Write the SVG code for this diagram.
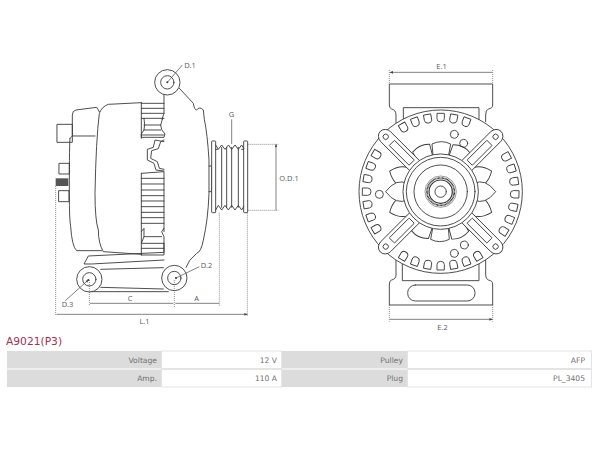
<svg xmlns="http://www.w3.org/2000/svg" width="600" height="450" viewBox="0 0 600 450">
<style>
.l{fill:none;stroke:#3a3a3a;stroke-width:2.7;stroke-linejoin:round;stroke-linecap:round}
.w{fill:#fff;stroke:#3a3a3a;stroke-width:2.7;stroke-linejoin:round}
.d{fill:none;stroke:#555;stroke-width:2;stroke-dasharray:3 3}
.a{fill:none;stroke:#555;stroke-width:2.2;marker-start:url(#ar);marker-end:url(#ar)}
.s{fill:none;stroke:#555;stroke-width:2.2;marker-end:url(#ae)}
text{font-family:"Open Sans","Liberation Sans",sans-serif}
.t{font-size:7.500px;fill:#5a5a5a;text-anchor:middle}
.c{font-family:"DejaVu Sans",sans-serif;font-size:7.600px;fill:#707070;text-anchor:end}
.g{fill:#dcdcdc}
.v{fill:#fff;stroke:#e4e4e4;stroke-width:1}
</style>
<defs>
<marker id="ar" viewBox="0 0 10 10" refX="9" refY="5" markerWidth="4.500" markerHeight="4.500" orient="auto-start-reverse"><path d="M0 1L10 5L0 9Z" fill="#444"/></marker>
<marker id="ae" viewBox="0 0 10 10" refX="9" refY="5" markerWidth="4.500" markerHeight="4.500" orient="auto"><path d="M0 1L10 5L0 9Z" fill="#444"/></marker>
<path id="tab" class="w" d="M291 160H313V176Q313 186 302 186Q291 186 291 176Z"/>
<g id="arm">
<path class="w" d="M281 290V162A21 23 0 0 1 323 162V290"/>
<rect class="w" x="291" y="188" width="22" height="84" rx="1"/>
<circle class="w" cx="302" cy="162" r="8"/>
</g>
<path id="blade" class="w" d="M280 296L276 252Q305 238 332 252L324 296Z"/>
<path id="leaf" class="w" d="M278 296Q260 262 302 230Q344 262 326 296Z"/>
</defs>
<rect width="600" height="450" fill="#fff"/>

<g id="side-view" transform="translate(40 60) scale(.33333)">
<path class="l" d="M372 105V160L366 178M418 85L460 130Q463 150 470 150Q478 138 490 150L493 178Q502 220 507 300V400Q504 480 490 540Q484 575 470 580Q445 600 438 622"/>
<path class="l" d="M304 128L205 133Q185 140 178 160Q168 240 165 400Q165 480 175 510Q175 550 190 575L304 583"/>
<path class="l" d="M178 155L170 142L108 150Q97 152 97 165V228H165M90 235Q88 240 88 400Q88 480 92 500Q96 560 110 572H185"/>
<path class="l" d="M90 235L97 228M304 128V235M304 340V585"/>
<path class="l" d="M52 193H97V247H52ZM58 310H88V342H58ZM57 392H87V425H57Z"/>
<rect x="47" y="355" width="38" height="23" fill="#555"/>
<path class="l" d="M304 130H372M304 145H372M304 160H372M304 175H372M312 175Q316 195 312 210L304 222V232H372L375 222Q362 210 362 195L368 175M312 195H362M312 210H362M304 225H372"/>
<path class="l" d="M372 245L345 240L340 262L322 268V300L342 310L348 330L372 333M372 240L362 245L355 266L335 272L332 295L352 305L358 325L372 328"/>
<path class="l" d="M304 340L372 335V515M304 355H372M304 372H372M304 390H372M304 407H372M304 423H372M304 440H372M304 457H372M304 473H372M304 490H372M304 515L312 505V530L304 550H372V530L365 515L372 505M312 530H365M304 565H372M304 585H372V550"/>
<path class="l" d="M372 600L155 612H132L145 588L372 577V550"/>
<path class="l" d="M182 628L370 623M182 682L370 687M148 695H385"/>
<circle class="w" cx="148" cy="658" r="38"/><circle class="l" cx="148" cy="658" r="20"/><circle cx="145" cy="660" r="3" fill="#333"/>
<circle class="w" cx="403" cy="654" r="38"/><circle class="l" cx="403" cy="654" r="20"/><circle cx="408" cy="654" r="3" fill="#333"/>
<circle class="w" cx="382" cy="67" r="38"/><circle class="l" cx="382" cy="67" r="20"/><circle cx="382" cy="67" r="3" fill="#333"/>
<path class="l" d="M507 318H515V395H507"/>
<rect class="w" x="515" y="243" width="12" height="215" rx="2"/>
<rect class="w" x="611" y="243" width="12" height="215" rx="2"/>
<path class="l" d="M527 255L535 268L545 255L555 268L565 255L575 268L585 255L595 268L605 255L611 265M527 450L535 436L545 450L555 436L565 450L575 436L585 450L595 436L605 450L611 440"/>
<path class="l" d="M545 262V442M560 262V442M575 262V442M595 262V442M527 268H533M605 268H611"/>
</g>

<g id="side-dimensions" transform="translate(40 60) scale(.33333)">
<path class="d" d="M47 378V768M148 660V738M403 660V742M538 458V738M622 458V768M623 253H715M623 451H715"/>
<path class="a" d="M708 253V451M150 730H400M406 730H537M50 763H622"/>
<path class="s" d="M575 178V252M427 15L382 67M478 620L408 654M76 722L145 660"/>
</g>

<g id="front-view" transform="translate(340 60) scale(.33333)">
<path class="l" d="M168 200V165Q168 150 155 147Q148 145 148 135V72H458V135Q458 145 445 147Q437 150 437 165V185M190 180V143H417V180"/>
<path class="l" d="M168 600V645Q168 657 155 660Q148 662 148 672V735H458V672Q458 662 445 660Q437 657 437 645V600M187 605V662H417V605"/>
<rect class="l" x="203" y="675" width="202" height="48" rx="23"/>
<circle class="w" cx="302" cy="395" r="245"/>
<use href="#tab" transform="rotate(-30 302 395)"/><use href="#tab" transform="rotate(-20 302 395)"/><use href="#tab" transform="rotate(-10 302 395)"/><use href="#tab"/><use href="#tab" transform="rotate(10 302 395)"/><use href="#tab" transform="rotate(20 302 395)"/>
<use href="#tab" transform="rotate(62 302 395)"/><use href="#tab" transform="rotate(72 302 395)"/><use href="#tab" transform="rotate(82 302 395)"/><use href="#tab" transform="rotate(92 302 395)"/><use href="#tab" transform="rotate(102 302 395)"/><use href="#tab" transform="rotate(112 302 395)"/><use href="#tab" transform="rotate(122 302 395)"/>
<use href="#tab" transform="rotate(150 302 395)"/><use href="#tab" transform="rotate(160 302 395)"/><use href="#tab" transform="rotate(170 302 395)"/><use href="#tab" transform="rotate(180 302 395)"/><use href="#tab" transform="rotate(190 302 395)"/><use href="#tab" transform="rotate(200 302 395)"/><use href="#tab" transform="rotate(210 302 395)"/>
<use href="#tab" transform="rotate(240 302 395)"/><use href="#tab" transform="rotate(250 302 395)"/><use href="#tab" transform="rotate(260 302 395)"/><use href="#tab" transform="rotate(270 302 395)"/><use href="#tab" transform="rotate(280 302 395)"/><use href="#tab" transform="rotate(290 302 395)"/><use href="#tab" transform="rotate(300 302 395)"/>
<use href="#blade"/><use href="#blade" transform="rotate(25 302 395)"/><use href="#blade" transform="rotate(-25 302 395)"/>
<use href="#leaf" transform="rotate(68 302 395)"/><use href="#leaf" transform="rotate(112 302 395)"/><use href="#leaf" transform="rotate(90 302 395)"/>
<use href="#blade" transform="rotate(155 302 395)"/><use href="#blade" transform="rotate(205 302 395)"/><use href="#blade" transform="rotate(180 302 395)"/>
<use href="#leaf" transform="rotate(248 302 395)"/><use href="#leaf" transform="rotate(292 302 395)"/><use href="#leaf" transform="rotate(270 302 395)"/>
<use href="#arm" transform="rotate(45 302 395)"/><use href="#arm" transform="rotate(135 302 395)"/><use href="#arm" transform="rotate(225 302 395)"/><use href="#arm" transform="rotate(315 302 395)"/>
<circle class="w" cx="302" cy="395" r="113"/>
<circle class="l" cx="302" cy="395" r="103"/>
<circle class="l" cx="302" cy="395" r="80"/>
<circle cx="302" cy="395" r="47" fill="none" stroke="#333" stroke-width="1.500"/>
<circle cx="302" cy="395" r="41" fill="none" stroke="#222" stroke-width="5" stroke-dasharray="2.500 1.500"/>
<circle cx="302" cy="395" r="35" fill="none" stroke="#333" stroke-width="3.500"/>
<circle class="l" cx="302" cy="395" r="17"/>
<circle class="l" cx="343" cy="223" r="12"/><circle class="l" cx="371" cy="250" r="12"/><circle class="w" cx="118" cy="403" r="12"/><circle class="l" cx="343" cy="580" r="12"/><circle class="l" cx="373" cy="555" r="12"/>
</g>
<g id="front-dimensions" transform="translate(340 60) scale(.33333)">
<path class="d" d="M148 30V72M458 30V72M148 735V785M458 735V785"/>
<path class="a" d="M150 37H457M150 778H457"/>
</g>

<g id="labels">
<text class="t" x="190" y="67.500">D.1</text>
<text class="t" x="231.500" y="117">G</text>
<text class="t" x="289" y="180.500">O.D.1</text>
<text class="t" x="206.500" y="267.500">D.2</text>
<text class="t" x="67.500" y="306.500">D.3</text>
<text class="t" x="130" y="300.500">C</text>
<text class="t" x="196.500" y="300.500">A</text>
<text class="t" x="144.500" y="323.500">L.1</text>
<text class="t" x="441.500" y="68.500">E.1</text>
<text class="t" x="442.500" y="329.500">E.2</text>
</g>

<g id="title"><text x="6" y="344.500" font-size="10.700" style="font-family:'DejaVu Sans',sans-serif" fill="#a5304a">A9021(P3)</text></g>
<g id="spec-table">
<rect class="g" x="7" y="351" width="154" height="17.500"/><rect class="v" x="161.500" y="351" width="120" height="17.500"/><rect class="g" x="282" y="351" width="125.500" height="17.500"/><rect class="v" x="407.500" y="351" width="184" height="17.500"/>
<rect class="g" x="7" y="369.500" width="154" height="17.500"/><rect class="v" x="161.500" y="369.500" width="120" height="17.500"/><rect class="g" x="282" y="369.500" width="125.500" height="17.500"/><rect class="v" x="407.500" y="369.500" width="184" height="17.500"/>
<text class="c" x="157" y="362.500">Voltage</text><text class="c" x="277" y="362.500">12 V</text><text class="c" x="403" y="362.500">Pulley</text><text class="c" x="585" y="362.500">AFP</text>
<text class="c" x="157" y="381">Amp.</text><text class="c" x="277" y="381">110 A</text><text class="c" x="403" y="381">Plug</text><text class="c" x="585" y="381">PL_3405</text>
</g>
</svg>
